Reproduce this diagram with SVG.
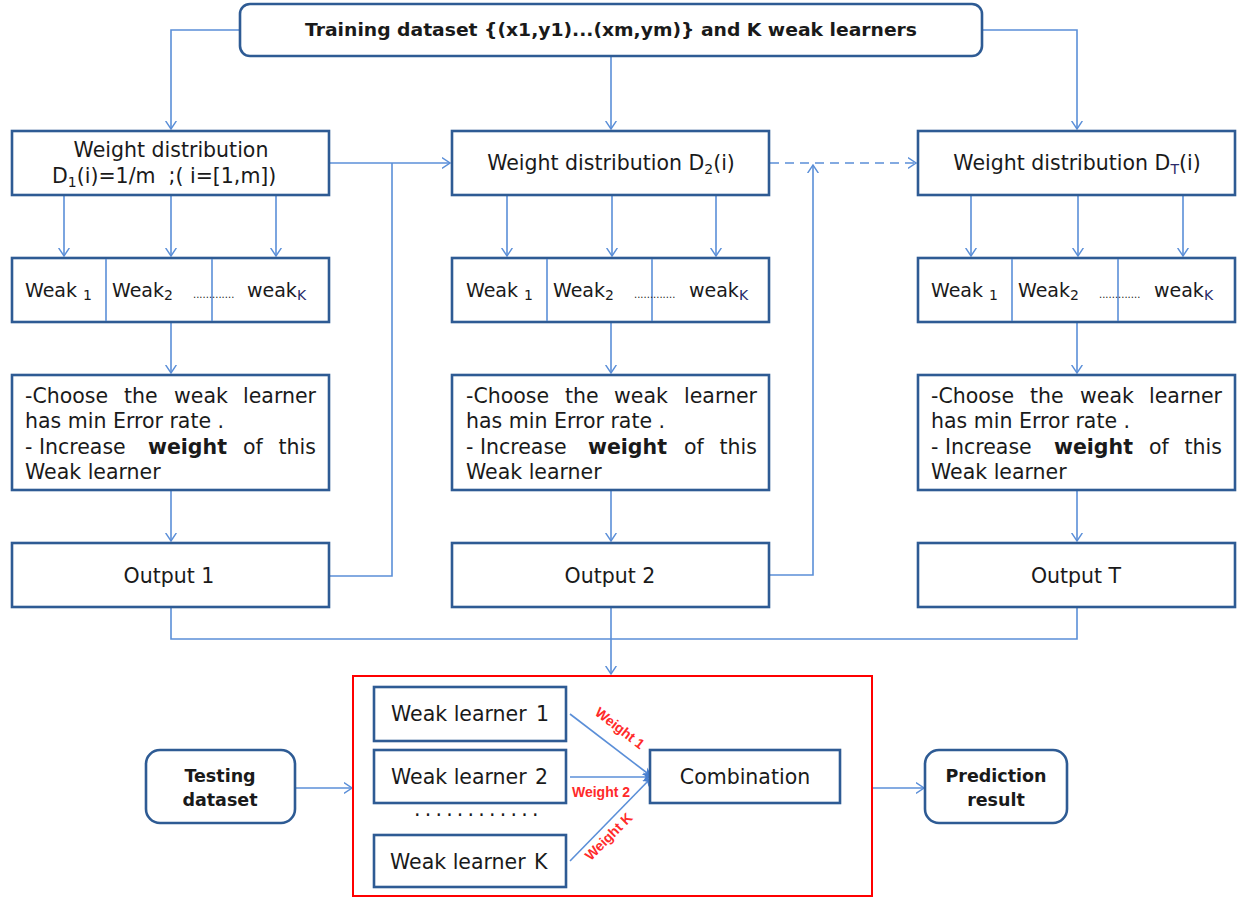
<svg xmlns="http://www.w3.org/2000/svg" width="1239" height="898" viewBox="0 0 1239 898">
  <style>
    .box { fill: #ffffff; stroke: #2e5b94; stroke-width: 2.6; }
    .red { fill: none; stroke: #ff0000; stroke-width: 2; }
    .conn { fill: none; stroke: #5b8fd8; stroke-width: 1.6; }
    .dash { stroke-dasharray: 9 6; }
    .div { stroke: #5b8fd8; stroke-width: 1.6; }
    text { font-family: "DejaVu Sans", Verdana, sans-serif; fill: #1a1a1a; }
    .t { font-size: 20.5px; }
    .w { font-size: 19px; }
    .c { text-anchor: middle; }
    .e { text-anchor: end; }
    .b { font-weight: bold; }
    .hd { font-size: 17.5px; font-weight: bold; }
    .sub { font-size: 14px; }
    .dots { font-size: 10px; }
    .lbl { font-family: "Liberation Sans", Arial, sans-serif; font-size: 14px; font-weight: bold; fill: #ff2a2a; }
  </style>
  <defs>
    <marker id="arr" viewBox="0 0 10 12" refX="9" refY="6" markerWidth="9" markerHeight="12" markerUnits="userSpaceOnUse" orient="auto">
      <path d="M0,0 L9,6 L0,12" fill="none" stroke="#5b8fd8" stroke-width="1.6"/>
    </marker>
    <marker id="arrf" viewBox="0 0 10 10" refX="9" refY="5" markerWidth="9" markerHeight="10" markerUnits="userSpaceOnUse" orient="auto">
      <path d="M0,0 L10,5 L0,10 L3,5 z" fill="#4a80d0"/>
    </marker>
  </defs>

  <rect width="1239" height="898" fill="#ffffff"/>

  <!-- connectors -->
  <g id="connectors">
    <path class="conn" d="M240,30 H171 V129" marker-end="url(#arr)"/>
    <path class="conn" d="M611,56 V129" marker-end="url(#arr)"/>
    <path class="conn" d="M982,30 H1077 V129" marker-end="url(#arr)"/>

    <!-- weight distribution to weak learners -->
    <path class="conn" d="M64,195 V256" marker-end="url(#arr)"/>
    <path class="conn" d="M171,195 V256" marker-end="url(#arr)"/>
    <path class="conn" d="M276,195 V256" marker-end="url(#arr)"/>
    <path class="conn" d="M507,195 V256" marker-end="url(#arr)"/>
    <path class="conn" d="M612,195 V256" marker-end="url(#arr)"/>
    <path class="conn" d="M716,195 V256" marker-end="url(#arr)"/>
    <path class="conn" d="M971,195 V256" marker-end="url(#arr)"/>
    <path class="conn" d="M1078,195 V256" marker-end="url(#arr)"/>
    <path class="conn" d="M1183,195 V256" marker-end="url(#arr)"/>

    <!-- weak learners to selection -->
    <path class="conn" d="M171,322 V373" marker-end="url(#arr)"/>
    <path class="conn" d="M611,322 V373" marker-end="url(#arr)"/>
    <path class="conn" d="M1077,322 V373" marker-end="url(#arr)"/>

    <!-- selection to output -->
    <path class="conn" d="M171,490 V541" marker-end="url(#arr)"/>
    <path class="conn" d="M611,490 V541" marker-end="url(#arr)"/>
    <path class="conn" d="M1077,490 V541" marker-end="url(#arr)"/>

    <!-- round 1 feeds round 2 -->
    <path class="conn" d="M329,163 H450" marker-end="url(#arr)"/>
    <path class="conn" d="M329,576 H392 V163"/>

    <!-- round 2 feeds round T -->
    <path class="conn dash" d="M770,163 H916" marker-end="url(#arr)"/>
    <path class="conn" d="M770,575 H813 V165" marker-end="url(#arr)"/>

    <!-- outputs collected -->
    <path class="conn" d="M171,607 V639 H1077 V607"/>
    <path class="conn" d="M611,607 V674" marker-end="url(#arr)"/>

    <!-- testing flow -->
    <path class="conn" d="M295,788 H352" marker-end="url(#arr)"/>
    <path class="conn" d="M873,788 H924" marker-end="url(#arr)"/>

    <!-- weighted combination -->
    <path class="conn" d="M570,714 L651,776" marker-end="url(#arrf)"/>
    <path class="conn" d="M570,777 L651,777" marker-end="url(#arrf)"/>
    <path class="conn" d="M570,861 L651,778" marker-end="url(#arrf)"/>
  </g>

  <!-- training dataset -->
  <g id="training">
    <rect class="box" x="240" y="4" width="742" height="52" rx="10"/>
    <text class="hd c" x="611" y="36" textLength="612" lengthAdjust="spacingAndGlyphs">Training dataset {(x1,y1)...(xm,ym)} and K weak learners</text>
  </g>

  <!-- round 1 -->
  <g id="dist1">
    <rect class="box" x="12" y="131" width="317" height="64"/>
    <text class="t c" x="171" y="157">Weight distribution</text>
    <text class="t" x="52" y="183" xml:space="preserve">D<tspan class="sub" dy="4">1</tspan><tspan dy="-4">(i)=1/m  ;( i=[1,m])</tspan></text>
  </g>
  <g id="weak1">
    <rect class="box" x="12" y="258" width="317" height="64"/>
    <line class="div" x1="106" y1="259" x2="106" y2="321"/>
    <line class="div" x1="212" y1="259" x2="212" y2="321"/>
    <text class="w" x="25" y="297">Weak <tspan class="sub" dy="3">1</tspan></text>
    <text class="w" x="112" y="297">Weak<tspan class="sub" dy="3">2</tspan></text>
    <text class="dots" x="193" y="298">.............</text>
    <text class="w" x="247" y="297">weak<tspan class="sub" dy="3" fill="#2a2a6a">K</tspan></text>
  </g>
  <g id="select1">
    <rect class="box" x="12" y="375" width="317" height="115"/>
    <text class="t" x="25" y="403">-Choose</text>
    <text class="t" x="124" y="403">the</text>
    <text class="t" x="174" y="403">weak</text>
    <text class="t e" x="316" y="403">learner</text>
    <text class="t" x="25" y="428">has min Error rate .</text>
    <text class="t" x="25" y="454">- Increase</text>
    <text class="t b" x="148" y="454">weight</text>
    <text class="t" x="243" y="454">of</text>
    <text class="t e" x="316" y="454">this</text>
    <text class="t" x="25" y="479">Weak learner</text>
  </g>
  <g id="output1">
    <rect class="box" x="12" y="543" width="317" height="64"/>
    <text class="t c" x="169" y="583">Output 1</text>
  </g>

  <!-- round 2 -->
  <g id="dist2">
    <rect class="box" x="452" y="131" width="317" height="64"/>
    <text class="t c" x="611" y="170">Weight distribution D<tspan class="sub" dy="4">2</tspan><tspan dy="-4">(i)</tspan></text>
  </g>
  <g id="weak2">
    <rect class="box" x="452" y="258" width="317" height="64"/>
    <line class="div" x1="547" y1="259" x2="547" y2="321"/>
    <line class="div" x1="652" y1="259" x2="652" y2="321"/>
    <text class="w" x="466" y="297">Weak <tspan class="sub" dy="3">1</tspan></text>
    <text class="w" x="553" y="297">Weak<tspan class="sub" dy="3">2</tspan></text>
    <text class="dots" x="634" y="298">.............</text>
    <text class="w" x="689" y="297">weak<tspan class="sub" dy="3" fill="#2a2a6a">K</tspan></text>
  </g>
  <g id="select2">
    <rect class="box" x="452" y="375" width="317" height="115"/>
    <text class="t" x="466" y="403">-Choose</text>
    <text class="t" x="565" y="403">the</text>
    <text class="t" x="614" y="403">weak</text>
    <text class="t e" x="757" y="403">learner</text>
    <text class="t" x="466" y="428">has min Error rate .</text>
    <text class="t" x="466" y="454">- Increase</text>
    <text class="t b" x="588" y="454">weight</text>
    <text class="t" x="684" y="454">of</text>
    <text class="t e" x="757" y="454">this</text>
    <text class="t" x="466" y="479">Weak learner</text>
  </g>
  <g id="output2">
    <rect class="box" x="452" y="543" width="317" height="64"/>
    <text class="t c" x="610" y="583">Output 2</text>
  </g>

  <!-- round T -->
  <g id="distT">
    <rect class="box" x="918" y="131" width="317" height="64"/>
    <text class="t c" x="1077" y="170">Weight distribution D<tspan class="sub" dy="4" fill="#2a2a6a">T</tspan><tspan dy="-4">(i)</tspan></text>
  </g>
  <g id="weakT">
    <rect class="box" x="918" y="258" width="317" height="64"/>
    <line class="div" x1="1012" y1="259" x2="1012" y2="321"/>
    <line class="div" x1="1118" y1="259" x2="1118" y2="321"/>
    <text class="w" x="931" y="297">Weak <tspan class="sub" dy="3">1</tspan></text>
    <text class="w" x="1018" y="297">Weak<tspan class="sub" dy="3">2</tspan></text>
    <text class="dots" x="1099" y="298">.............</text>
    <text class="w" x="1154" y="297">weak<tspan class="sub" dy="3" fill="#2a2a6a">K</tspan></text>
  </g>
  <g id="selectT">
    <rect class="box" x="918" y="375" width="317" height="115"/>
    <text class="t" x="931" y="403">-Choose</text>
    <text class="t" x="1030" y="403">the</text>
    <text class="t" x="1080" y="403">weak</text>
    <text class="t e" x="1222" y="403">learner</text>
    <text class="t" x="931" y="428">has min Error rate .</text>
    <text class="t" x="931" y="454">- Increase</text>
    <text class="t b" x="1054" y="454">weight</text>
    <text class="t" x="1149" y="454">of</text>
    <text class="t e" x="1222" y="454">this</text>
    <text class="t" x="931" y="479">Weak learner</text>
  </g>
  <g id="outputT">
    <rect class="box" x="918" y="543" width="317" height="64"/>
    <text class="t c" x="1076" y="583">Output T</text>
  </g>

  <!-- strong classifier -->
  <g id="ensemble">
    <rect class="red" x="353" y="676" width="519" height="220"/>
  </g>
  <g id="learner1">
    <rect class="box" x="374" y="687" width="192" height="54"/>
    <text class="t" x="391" y="721">Weak learner</text>
    <text class="t" x="536" y="721">1</text>
  </g>
  <g id="learner2">
    <rect class="box" x="374" y="750" width="192" height="53"/>
    <text class="t" x="391" y="784">Weak learner</text>
    <text class="t" x="535" y="784">2</text>
  </g>
  <text class="t" x="414" y="816" letter-spacing="4.2">............</text>
  <g id="learnerK">
    <rect class="box" x="374" y="835" width="192" height="52"/>
    <text class="t" x="390" y="869">Weak learner</text>
    <text class="t" x="534" y="869">K</text>
  </g>
  <g id="combination">
    <rect class="box" x="650" y="750" width="190" height="53"/>
    <text class="t c" x="745" y="784">Combination</text>
  </g>
  <g id="weight-labels">
    <text class="lbl c" transform="translate(617,732) rotate(37.5)">Weight 1</text>
    <text class="lbl c" x="601" y="797">Weight 2</text>
    <text class="lbl c" transform="translate(612,840) rotate(-45)">Weight K</text>
  </g>

  <g id="testing">
    <rect class="box" x="146" y="750" width="149" height="73" rx="14"/>
    <text class="hd c" x="220" y="782">Testing</text>
    <text class="hd c" x="220" y="806">dataset</text>
  </g>
  <g id="prediction">
    <rect class="box" x="925" y="750" width="142" height="73" rx="14"/>
    <text class="hd c" x="996" y="782">Prediction</text>
    <text class="hd c" x="996" y="806">result</text>
  </g>
</svg>
